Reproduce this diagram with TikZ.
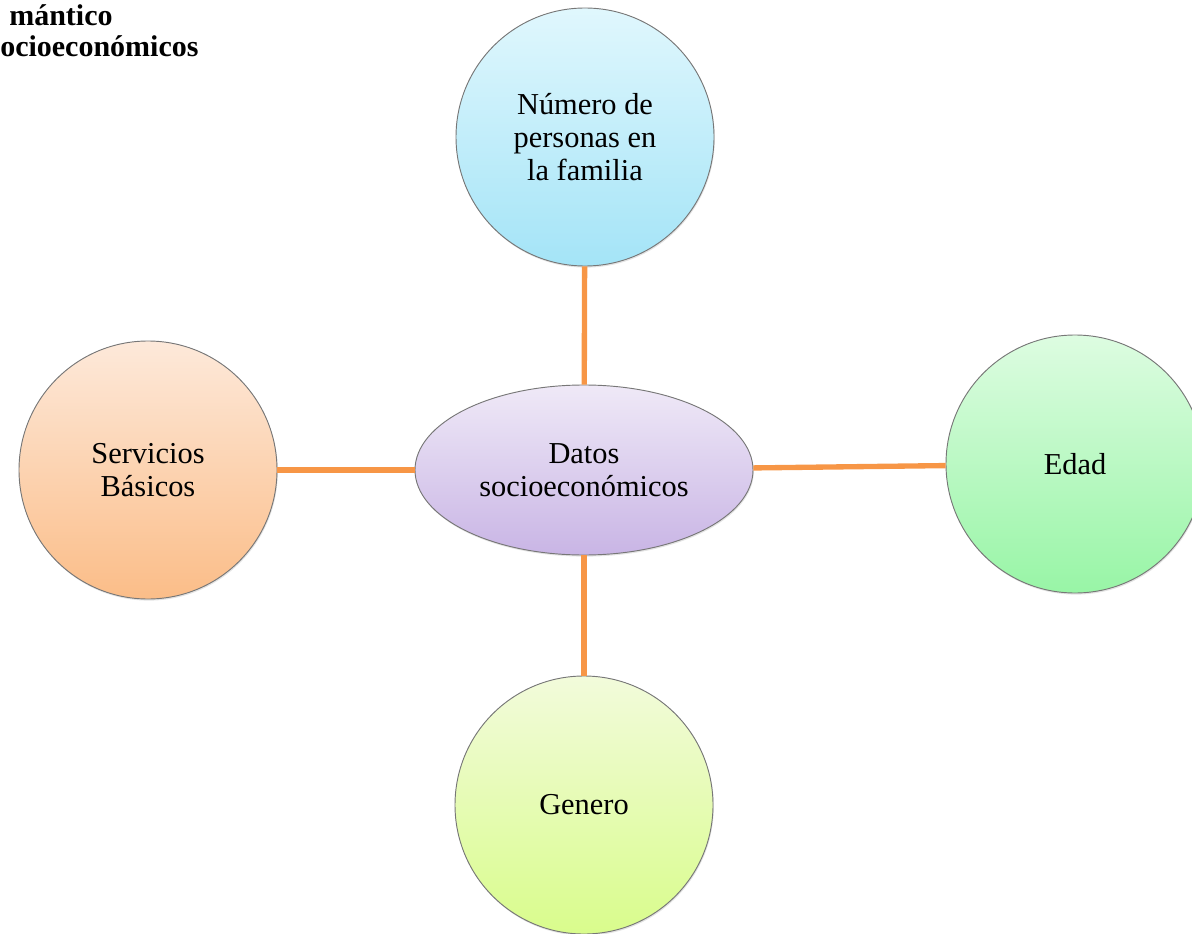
\documentclass[tikz,border=0pt]{standalone}
\usepackage{fontspec}
\setmainfont{Liberation Serif}
\usetikzlibrary{shapes.geometric,shadows}

\definecolor{linkorange}{HTML}{F79646}
\definecolor{rimgray}{HTML}{777777}
\definecolor{hubtop}{HTML}{EFE9F7}
\definecolor{hubbot}{HTML}{C9B5E5}

\begin{document}
\begin{tikzpicture}[x=0.75pt,y=-0.75pt,
  bubble/.style={circle, draw=rimgray, line width=0.7pt,
    minimum size=193.5pt, inner sep=0pt, align=center,
    font=\fontsize{22.8}{25}\selectfont,
    drop shadow={opacity=0.22, shadow xshift=0.6pt, shadow yshift=-1.2pt}},
  hub/.style={ellipse, draw=rimgray, line width=0.7pt,
    minimum width=253.5pt, minimum height=127.5pt, inner sep=0pt, align=center,
    font=\fontsize{22.8}{25}\selectfont,
    top color=hubtop, bottom color=hubbot,
    drop shadow={opacity=0.22, shadow xshift=0.6pt, shadow yshift=-1.2pt}},
  link/.style={draw=linkorange, line width=4pt},
  heading/.style={anchor=base west, inner sep=0pt,
    font=\fontsize{22.5}{24}\selectfont\bfseries}]

\useasboundingbox (0,0) rectangle (1192,934);
\clip (0,0) rectangle (1192,934);

% headings at the top left
\node[heading] (h1) at (9,26) {mántico};
\node[heading] (h2) at (0,57) {ocioeconómicos};

% central topic
\node[hub] (hub) at (584,470) {Datos\\socioeconómicos};

% surrounding topics
\node[bubble, top color={rgb,255:red,224;green,247;blue,253}, bottom color={rgb,255:red,164;green,228;blue,247}]
  (fam) at (585,137) {Número de\\personas en\\la familia};
\node[bubble, top color={rgb,255:red,253;green,233;blue,218}, bottom color={rgb,255:red,251;green,189;blue,136}]
  (serv) at (148,470) {Servicios\\Básicos};
\node[bubble, top color={rgb,255:red,221;green,252;blue,225}, bottom color={rgb,255:red,152;green,245;blue,166}]
  (edad) at (1075,464) {Edad};
\node[bubble, top color={rgb,255:red,242;green,251;blue,219}, bottom color={rgb,255:red,217;green,252;blue,140}]
  (gen) at (584,805) {Genero};

% connectors
\draw[link] (fam) -- (hub);
\draw[link] (serv) -- (hub);
\draw[link] (hub) -- (edad);
\draw[link] (hub) -- (gen);
\end{tikzpicture}
\end{document}
